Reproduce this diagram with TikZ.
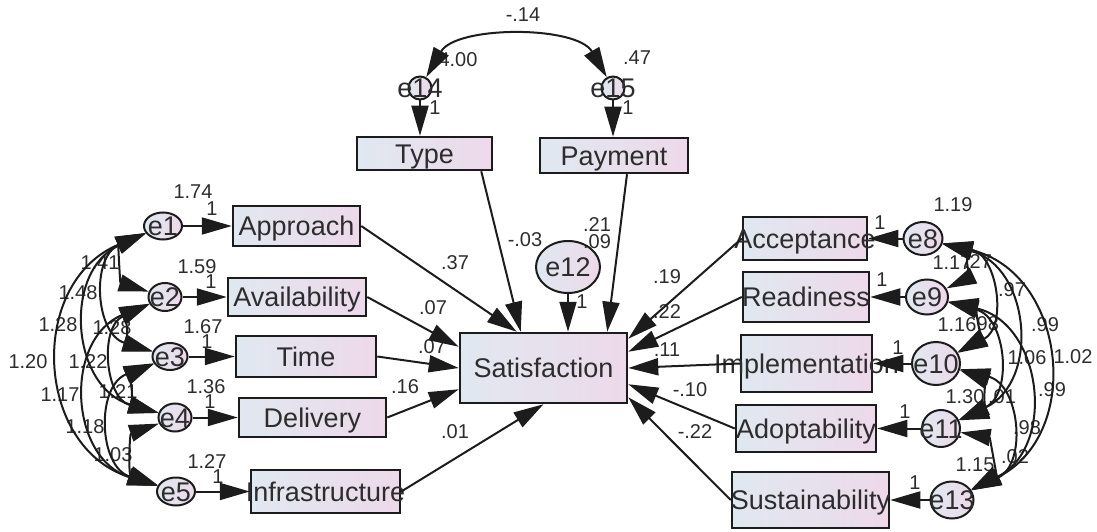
\documentclass[tikz,border=0pt]{standalone}
\usepackage{fontspec}
\setmainfont{Liberation Sans}
\usepackage{tikz}
\usetikzlibrary{arrows.meta,positioning,shapes.geometric}

\definecolor{ink}{RGB}{28,28,28}
\definecolor{txt}{RGB}{45,45,45}
\definecolor{boxl}{RGB}{224,232,240}
\definecolor{boxr}{RGB}{237,217,234}

\newcommand{\olap}[1]{\makebox[0pt]{\raisebox{-.36em}[0pt][0pt]{#1}}}

\tikzset{
  obs/.style={draw=ink, line width=2.5pt, rectangle, inner sep=0pt,
    left color=boxl, right color=boxr, text=txt, font=\fontsize{27}{30}\selectfont},
  err/.style={draw=ink, line width=2pt, ellipse, inner sep=0pt,
    left color=boxl, right color=boxr, text=txt, font=\fontsize{27}{30}\selectfont},
  num/.style={inner sep=0pt, text=txt, font=\fontsize{20}{22}\selectfont}
}

\begin{document}
\begin{tikzpicture}[x=1pt,y=1pt,on grid,draw=ink,line width=2pt,
                    >={Triangle[length=30pt,width=17pt]}]
    \useasboundingbox (0,0) rectangle (1097,531);
    % observed variables
    \node[obs,minimum width=167pt,minimum height=70pt] (Sat) at (543.5,163) {\olap{Satisfaction}};
    \node[obs,minimum width=135pt,minimum height=33pt] (Type) at (424.5,377.5) {\olap{Type}};
    \node[obs,minimum width=148pt,minimum height=35pt] (Payment) at (614,375.5) {\olap{Payment}};
    \node[obs,minimum width=127pt,minimum height=40pt] (Approach) at (296.5,305) {\olap{Approach}};
    \node[obs,minimum width=138pt,minimum height=38pt] (Availability) [below=71pt of Approach,xshift=0.5pt] {\olap{Availability}};
    \node[obs,minimum width=140pt,minimum height=41pt] (Time) [below=59.5pt of Availability,xshift=9pt] {\olap{Time}};
    \node[obs,minimum width=147pt,minimum height=39pt] (Delivery) [below=61pt of Time,xshift=6.5pt] {\olap{Delivery}};
    \node[obs,minimum width=149pt,minimum height=43pt] (Infrastructure) [below=74pt of Delivery,xshift=13pt] {\olap{Infrastructure}};
    \node[obs,minimum width=124pt,minimum height=43pt] (Acceptance) at (805,292.5) {\olap{Acceptance}};
    \node[obs,minimum width=126pt,minimum height=50pt] (Readiness) [below=58.5pt of Acceptance,xshift=1pt] {\olap{Readiness}};
    \node[obs,minimum width=131pt,minimum height=57pt] (Implementation) [below=66.5pt of Readiness,xshift=0.5pt] {\olap{Implementation}};
    \node[obs,minimum width=140pt,minimum height=47pt] (Adoptability) [below=65pt of Implementation,xshift=-0.5pt] {\olap{Adoptability}};
    \node[obs,minimum width=157pt,minimum height=56pt] (Sustainability) [below=71.5pt of Adoptability,xshift=4.5pt] {\olap{Sustainability}};

    % error terms
    \node[err,minimum width=38pt,minimum height=27pt] (e1) [left=133.5pt of Approach] {\olap{e1}};
    \node[err,minimum width=33pt,minimum height=28pt] (e2) [left=132pt of Availability] {\olap{e2}};
    \node[err,minimum width=35pt,minimum height=27pt] (e3) [left=136pt of Time] {\olap{e3}};
    \node[err,minimum width=33pt,minimum height=28pt] (e4) [left=137.5pt of Delivery] {\olap{e4}};
    \node[err,minimum width=38pt,minimum height=28pt] (e5) [left=149.5pt of Infrastructure] {\olap{e5}};
    \node[err,minimum width=39pt,minimum height=33pt] (e8) [right=118pt of Acceptance] {\olap{e8}};
    \node[err,minimum width=42pt,minimum height=35pt] (e9) [right=121pt of Readiness] {\olap{e9}};
    \node[err,minimum width=48pt,minimum height=43pt] (e10) [right=129.5pt of Implementation] {\olap{e10}};
    \node[err,minimum width=38pt,minimum height=37pt] (e11) [right=135pt of Adoptability] {\olap{e11}};
    \node[err,minimum width=43pt,minimum height=37pt] (e13) [right=141.5pt of Sustainability] {\olap{e13}};
    \node[err,minimum width=64pt,minimum height=52pt] (e12) [above=101pt of Sat,xshift=24.5pt] {\olap{e12}};
    \node[err,minimum width=23pt,minimum height=23pt] (e14) [above=65.5pt of Type,xshift=-4.5pt] {\olap{e14}};
    \node[err,minimum width=23pt,minimum height=23pt] (e15) [above=67.5pt of Payment,xshift=-1pt] {\olap{e15}};

    % estimates
    \node[num] (ve1) at (193,339) {1.74};
    \node[num] (we1) at (212,322) {1};
    \node[num] (ve2) at (197,264) {1.59};
    \node[num] (we2) at (211,249) {1};
    \node[num] (ve3) at (203,204) {1.67};
    \node[num] (we3) at (207,189) {1};
    \node[num] (ve4) at (206,144) {1.36};
    \node[num] (we4) at (210,129) {1};
    \node[num] (ve5) at (207,69) {1.27};
    \node[num] (we5) at (218,54) {1};
    \node[num] (cl1) at (100,268) {1.41};
    \node[num] (cl2) at (78,238) {1.48};
    \node[num] (cl3) at (58,206) {1.28};
    \node[num] (cl4) at (112,203) {1.28};
    \node[num] (cl5) at (28,169) {1.20};
    \node[num] (cl6) at (88,169) {1.22};
    \node[num] (cl7) at (60,136) {1.17};
    \node[num] (cl8) at (118,139) {1.21};
    \node[num] (cl9) at (85,104) {1.18};
    \node[num] (cl10) at (113,76) {1.03};
    \node[num] (ct) at (523,516) {-.14};
    \node[num] (ve14) at (458,471) {4.00};
    \node[num] (ve15) at (637,473) {.47};
    \node[num] (we14) at (435,423) {1};
    \node[num] (we15) at (628,423) {1};
    \node[num] (pType) at (525,291) {-.03};
    \node[num] (pPay) at (597,306) {.21};
    \node[num] (ve12) at (597,289) {.09};
    \node[num] (we12) at (582,229) {1};
    \node[num] (pApp) at (455,268) {.37};
    \node[num] (pAva) at (433,223) {.07};
    \node[num] (pTim) at (432,184) {.07};
    \node[num] (pDel) at (405,144) {.16};
    \node[num] (pInf) at (455,99) {.01};
    \node[num] (pAcc) at (667,254) {.19};
    \node[num] (pRea) at (667,219) {.22};
    \node[num] (pImp) at (667,181) {.11};
    \node[num] (pAdo) at (690,141) {-.10};
    \node[num] (pSus) at (695,99) {-.22};
    \node[num] (ve8) at (953,326) {1.19};
    \node[num] (we8) at (880,308) {1};
    \node[num] (we9) at (882,251) {1};
    \node[num] (we10) at (898,183) {1};
    \node[num] (we11) at (905,119) {1};
    \node[num] (we13) at (915,48) {1};
    \node[num] (ve9) at (952,268) {1.17};
    \node[num] (cr1) at (978,269) {.27};
    \node[num] (cr2) at (1012,241) {.97};
    \node[num] (ve10) at (957,206) {1.16};
    \node[num] (cr3) at (985,207) {.98};
    \node[num] (cr4) at (1045,206) {.99};
    \node[num] (cr5) at (1027,173) {1.06};
    \node[num] (cr6) at (1073,174) {1.02};
    \node[num] (ve11) at (965,134) {1.30};
    \node[num] (cr7) at (1002,134) {.01};
    \node[num] (cr8) at (1052,141) {.99};
    \node[num] (cr9) at (1027,103) {.98};
    \node[num] (ve13) at (975,66) {1.15};
    \node[num] (cr10) at (1015,74) {.02};

    % regression paths
    \path[->]
        (e1) edge (Approach)
        (e2) edge (Availability)
        (e3) edge (Time)
        (e4) edge (Delivery)
        (e5) edge (Infrastructure)
        (e8) edge (Acceptance)
        (e9) edge (Readiness)
        (e10) edge (Implementation)
        (e11) edge (Adoptability)
        (e13) edge (Sustainability)
        (e14) edge (e14 |- Type.north)
        (e15) edge (e15 |- Payment.north)
        (e12) edge (e12 |- Sat.north)
        ([xshift=-12pt]Type.south east) edge ([xshift=62pt]Sat.north west)
        ([xshift=13pt]Payment.south) edge ([xshift=-21pt]Sat.north east)
        (Approach.east) edge ([xshift=58pt]Sat.north west)
        (Availability.east) edge ([yshift=-15pt]Sat.north west)
        (Time.east) edge (Sat.west)
        (Delivery.east) edge ([yshift=15pt]Sat.south west)
        (Infrastructure.east) edge (Sat.south)
        (Acceptance.west) edge ([yshift=-7pt]Sat.north east)
        (Readiness.west) edge ([yshift=-20pt]Sat.north east)
        (Implementation.west) edge (Sat.east)
        (Adoptability.west) edge ([yshift=20pt]Sat.south east)
        (Sustainability.west) edge ([yshift=7pt]Sat.south east);

    % covariances
    \path[<->,bend right=70,looseness=1.3]
        (e1) edge (e2) edge (e3) edge (e4) edge (e5)
        (e2) edge (e3) edge (e4) edge (e5)
        (e3) edge (e4) edge (e5)
        (e4) edge (e5);
    \path[<->,bend left=70,looseness=1.3]
        (e8) edge (e9) edge (e10) edge (e11) edge (e13)
        (e9) edge (e10) edge (e11) edge (e13)
        (e10) edge (e11) edge (e13)
        (e11) edge (e13);
    \path[<->] (e14) edge [bend left=60,looseness=0.85] (e15);
\end{tikzpicture}
\end{document}
